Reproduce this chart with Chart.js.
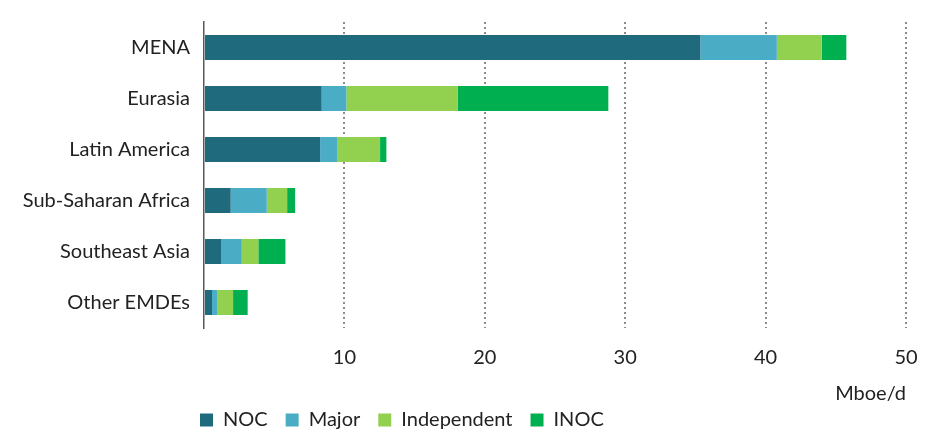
<!DOCTYPE html>
<html>
<head>
<meta charset="utf-8">
<script src="https://cdn.jsdelivr.net/npm/chart.js@4"></script>
<style>
  html, body { margin: 0; padding: 0; background: #fff; }
  #wrap { width: 948px; height: 431px; }
</style>
</head>
<body>
<div id="wrap"><canvas id="chart"></canvas></div>
<script>
const regions = ["MENA", "Eurasia", "Latin America", "Sub-Saharan Africa", "Southeast Asia", "Other EMDEs"];
const noc = [35.35, 8.38, 8.27, 1.9, 1.21, 0.57];
const major = [5.45, 1.76, 1.21, 2.57, 1.48, 0.36];
const independent = [3.2, 7.92, 3.06, 1.45, 1.18, 1.14];
const inoc = [1.75, 10.74, 0.45, 0.57, 1.93, 1.04];
const xTicks = [0, 10, 20, 30, 40, 50];

const FONT = "Lato";

function series(label, data, color) {
  return {
    label: label,
    data: data,
    backgroundColor: color,
    borderWidth: 0,
    categoryPercentage: 1,
    barPercentage: 0.49
  };
}

// nudge the legend so its first box sits under the y axis like the original
const legendShift = {
  id: "legendShift",
  afterLayout(chart) {
    chart.legend.left -= 22;
    chart.legend.right -= 22;
  }
};

new Chart(document.getElementById("chart"), {
  type: "bar",
  data: {
    labels: regions,
    datasets: [
      series("NOC", noc, "#1f6a7c"),
      series("Major", major, "#4bacc6"),
      series("Independent", independent, "#92d050"),
      series("INOC", inoc, "#00b050")
    ]
  },
  plugins: [legendShift],
  options: {
    indexAxis: "y",
    responsive: true,
    maintainAspectRatio: false,
    animation: false,
    layout: { padding: { top: 22, right: 42, bottom: -9, left: 0 } },
    plugins: {
      tooltip: { enabled: false },
      legend: {
        position: "bottom",
        align: "start",
        fullSize: false,
        labels: {
          boxWidth: 13,
          boxHeight: 13,
          padding: 18,
          color: "#222",
          font: { family: FONT, size: 20 }
        }
      }
    },
    scales: {
      x: {
        stacked: true,
        min: 0,
        max: 50,
        afterBuildTicks: scale => {
          scale.ticks = xTicks.map(v => ({ value: v }));
        },
        afterFit: scale => { scale.height = 64; },
        border: { display: false, dash: [2, 3] },
        grid: {
          drawTicks: false,
          color: ctx => ctx.tick && ctx.tick.value === 0 ? "rgba(0,0,0,0)" : "#8c8c8c",
          lineWidth: 2
        },
        ticks: {
          padding: 18,
          color: "#222",
          font: { family: FONT, size: 20 },
          callback: v => (v === 0 ? "" : v)
        },
        title: {
          display: true,
          text: "Mboe/d",
          align: "end",
          color: "#222",
          font: { family: FONT, size: 20 },
          padding: { top: 0, bottom: -14 }
        }
      },
      y: {
        stacked: true,
        afterFit: scale => {
          scale.width = 204;
          scale.paddingTop = 0;
          scale.paddingBottom = 0;
        },
        border: { display: true, color: "#595959", width: 1.5 },
        grid: { display: false, drawTicks: false },
        ticks: {
          padding: 14,
          color: "#222",
          font: { family: FONT, size: 20 }
        }
      }
    }
  }
});
</script>
</body>
</html>
